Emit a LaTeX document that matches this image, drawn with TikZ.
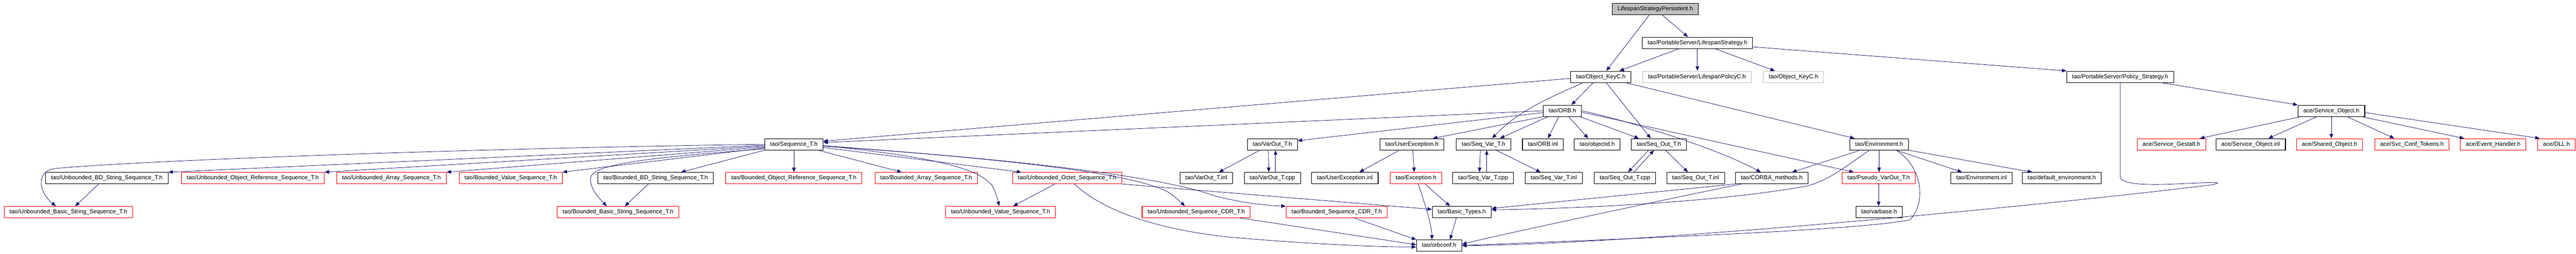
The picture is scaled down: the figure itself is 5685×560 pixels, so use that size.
\documentclass[tikz,border=0pt]{standalone}
\usepackage{fontspec}
\setmainfont{Liberation Sans}
\usetikzlibrary{arrows.meta}

\definecolor{redline}{rgb}{1,0,0}
\definecolor{grayline}{rgb}{0.75,0.75,0.75}
\definecolor{edgeblue}{rgb}{0.1,0.1,0.44}

\tikzset{
  inc/.style={draw=black, line width=1.2pt, fill=white, inner xsep=12pt, inner ysep=0pt,
    minimum height=25pt, text height=9.5pt, text depth=2.7pt, font=\fontsize{13}{15}\selectfont},
  incred/.style={inc, draw=redline},
  incgray/.style={inc, draw=grayline},
  incroot/.style={inc, fill=grayline},
  dep/.style={draw=edgeblue, line width=0.9pt, -{Triangle[length=10pt,width=8pt]}}
}

\begin{document}
\begin{tikzpicture}[x=1pt, y=-1pt] %1
            \useasboundingbox (0,0) rectangle (5685,560);

            \node[incroot] (persist) at (3653,19.5) {LifespanStrategyPersistent.h};
            \node[inc] (lspan) at (3746,94.5) {tao/PortableServer/LifespanStrategy.h};
            \node[inc] (okeyc) at (3533,169.5) {tao/Object\_KeyC.h};
            \node[incgray] (lpolicy) at (3745,169.5) {tao/PortableServer/LifespanPolicyC.h};
            \node[incgray] (okeyc2) at (3958,169.5) {tao/Object\_KeyC.h};
            \node[inc] (pstrat) at (4679,169.5) {tao/PortableServer/Policy\_Strategy.h};
            \node[inc] (orb) at (3448,244.5) {tao/ORB.h};
            \node[inc] (svcobj) at (5145,244.5) {ace/Service\_Object.h};

            \node[inc] (seqt) at (1752,318.5) {tao/Sequence\_T.h};
            \node[inc] (varout) at (2808,318.5) {tao/VarOut\_T.h};
            \node[inc] (userexc) at (3116,318.5) {tao/UserException.h};
            \node[inc] (seqvar) at (3274,318.5) {tao/Seq\_Var\_T.h};
            \node[inc] (orbinl) at (3405,318.5) {tao/ORB.inl};
            \node[inc] (objid) at (3525,318.5) {tao/objectid.h};
            \node[inc] (seqout) at (3661,318.5) {tao/Seq\_Out\_T.h};
            \node[inc] (env) at (4147,318.5) {tao/Environment.h};
            \node[incred] (gestalt) at (4792,318.5) {ace/Service\_Gestalt.h};
            \node[inc] (soinl) at (4967,318.5) {ace/Service\_Object.inl};
            \node[incred] (shared) at (5141,318.5) {ace/Shared\_Object.h};
            \node[incred] (svcconf) at (5323,318.5) {ace/Svc\_Conf\_Tokens.h};
            \node[incred] (evh) at (5502,318.5) {ace/Event\_Handler.h};
            \node[incred] (dll) at (5642,318.5) {ace/DLL.h};

            \node[inc] (ubd) at (236,393) {tao/Unbounded\_BD\_String\_Sequence\_T.h};
            \node[incred] (uor) at (558,393) {tao/Unbounded\_Object\_Reference\_Sequence\_T.h};
            \node[incred] (uarr) at (864,393) {tao/Unbounded\_Array\_Sequence\_T.h};
            \node[incred] (bval) at (1127,393) {tao/Bounded\_Value\_Sequence\_T.h};
            \node[inc] (bbd) at (1447,393) {tao/Bounded\_BD\_String\_Sequence\_T.h};
            \node[incred] (bor) at (1752,393) {tao/Bounded\_Object\_Reference\_Sequence\_T.h};
            \node[incred] (barr) at (2044,393) {tao/Bounded\_Array\_Sequence\_T.h};
            \node[incred] (uoct) at (2355,393) {tao/Unbounded\_Octet\_Sequence\_T.h};
            \node[inc] (varinl) at (2662,393) {tao/VarOut\_T.inl};
            \node[inc] (varcpp) at (2808,393) {tao/VarOut\_T.cpp};
            \node[inc] (ueinl) at (2968,393) {tao/UserException.inl};
            \node[incred] (exc) at (3125,393) {tao/Exception.h};
            \node[inc] (svcpp) at (3273,393) {tao/Seq\_Var\_T.cpp};
            \node[inc] (svinl) at (3429,393) {tao/Seq\_Var\_T.inl};
            \node[inc] (socpp) at (3586,393) {tao/Seq\_Out\_T.cpp};
            \node[inc] (soinl2) at (3742,393) {tao/Seq\_Out\_T.inl};
            \node[inc] (corba) at (3910,393) {tao/CORBA\_methods.h};
            \node[incred] (pseudo) at (4146,393) {tao/Pseudo\_VarOut\_T.h};
            \node[inc] (envinl) at (4373,393) {tao/Environment.inl};
            \node[inc] (defenv) at (4550,393) {tao/default\_environment.h};

            \node[incred] (ubs) at (151,468) {tao/Unbounded\_Basic\_String\_Sequence\_T.h};
            \node[incred] (bbs) at (1364,468) {tao/Bounded\_Basic\_String\_Sequence\_T.h};
            \node[incred] (uval) at (2208,468) {tao/Unbounded\_Value\_Sequence\_T.h};
            \node[incred] (useqcdr) at (2640,468) {tao/Unbounded\_Sequence\_CDR\_T.h};
            \node[incred] (bseqcdr) at (2950,468) {tao/Bounded\_Sequence\_CDR\_T.h};
            \node[inc] (basic) at (3226,468) {tao/Basic\_Types.h};
            \node[inc] (varbase) at (4147,468) {tao/varbase.h};

            \node[inc] (orbconf) at (3176,542) {tao/orbconf.h};

            \draw[dep] ([xshift=15pt]persist.south) -- ([xshift=-21pt]lspan.north);
            \draw[dep] ([xshift=-13pt]persist.south) -- ([xshift=12pt]okeyc.north);
            \draw[dep] ([xshift=-41pt]lspan.south) -- ([xshift=41pt]okeyc.north);
            \draw[dep] (lspan.south) -- (lspan.south |- lpolicy.north);
            \draw[dep] ([xshift=39pt]lspan.south) -- ([xshift=-41pt]okeyc2.north);
            \draw[dep] ([yshift=-9pt]lspan.east) -- (pstrat.north west);

            \draw[dep] ([yshift=-3.5pt]okeyc.west) -- ([yshift=7pt]seqt.east);
            \draw[dep] ([xshift=-17pt]okeyc.south) -- ([xshift=20pt]orb.north);
            \draw[dep] ([xshift=-39pt]okeyc.south) .. controls (3420,215) and (3350,245) .. ([xshift=19pt]seqvar.north);
            \draw[dep] ([xshift=12pt]okeyc.south) -- ([xshift=-18pt]seqout.north);
            \draw[dep] ([xshift=55pt]okeyc.south) -- ([xshift=-54pt]env.north);

            \draw[dep] ([xshift=91pt]pstrat.south) -- (svcobj.north west);
            \draw[dep] (pstrat.south) -- (4679,390) .. controls (4680,410) and (4760,408) .. (4800,406)
                .. controls (4870,403) and (4920,400) .. (4880,408) .. controls (4500,455) and (3600,540) .. (orbconf.east);

            \draw[dep] ([xshift=-68pt]svcobj.south) -- ([xshift=63pt]gestalt.north);
            \draw[dep] ([xshift=-32pt]svcobj.south) -- ([xshift=39pt]soinl.north);
            \draw[dep] (svcobj.south) -- (svcobj.south |- shared.north);
            \draw[dep] ([xshift=35pt]svcobj.south) -- ([xshift=-39pt]svcconf.north);
            \draw[dep] ([xshift=67pt]svcobj.south) -- ([xshift=-64pt]evh.north);
            \draw[dep] ([yshift=-4pt]svcobj.east) -- ([xshift=-37pt]dll.north);

            \draw[dep] (orb.west) -- ([yshift=4pt]seqt.east);
            \draw[dep] ([yshift=-4pt]orb.west) -- ([yshift=8pt]varout.east);
            \draw[dep] (orb.south west) -- ([xshift=46pt]userexc.north);
            \draw[dep] ([xshift=-32pt]orb.south) -- ([xshift=36pt]seqvar.north);
            \draw[dep] ([xshift=-8pt]orb.south) -- ([xshift=11pt]orbinl.north);
            \draw[dep] ([xshift=14pt]orb.south) -- ([xshift=-20pt]objid.north);
            \draw[dep] ([xshift=39pt]orb.south) -- ([xshift=-44pt]seqout.north);
            \draw[dep] (orb.east) .. controls (3600,268) and (3790,328) .. ([xshift=-24pt]corba.north);
            \draw[dep] ([yshift=-3pt]orb.east) -- ([xshift=-55pt]pseudo.north);

            \draw[dep] (seqt.west) .. controls (1000,328) and (300,355) .. (120,372) .. controls (82,378) and (82,420) .. ([xshift=-28pt]ubs.north);
            \draw[dep] ([yshift=-2pt]seqt.west) -- (ubd.north east);
            \draw[dep] ([yshift=-4pt]seqt.west) -- (uor.north east);
            \draw[dep] ([yshift=-6pt]seqt.west) -- (uarr.north east);
            \draw[dep] ([yshift=-8pt]seqt.west) -- (bval.north east);
            \draw[dep] ([yshift=-10pt]seqt.west) .. controls (1400,350) and (1303,365) .. (1303,395) .. controls (1303,420) and (1325,440) .. ([xshift=-25pt]bbs.north);
            \draw[dep] (seqt.south west) -- ([xshift=56pt]bbd.north);
            \draw[dep] (seqt.south) -- (bor.north);
            \draw[dep] ([xshift=54pt]seqt.south) -- ([xshift=-54pt]barr.north);
            \draw[dep] ([yshift=-7pt]seqt.east) -- ([xshift=-101pt]uoct.north);
            \draw[dep] ([yshift=-3pt]seqt.east) .. controls (2050,345) and (2160,370) .. (2190,410) .. controls (2200,430) and (2203,445) .. ([xshift=-3pt]uval.north);
            \draw[dep] ([yshift=-3pt]seqt.east) .. controls (2200,350) and (2500,380) .. (2580,425) .. controls (2600,440) and (2610,450) .. ([xshift=-25pt]useqcdr.north);
            \draw[dep] ([yshift=-4pt]seqt.east) .. controls (2300,355) and (2580,395) .. (2680,432) .. controls (2740,448) and (2800,454) .. (bseqcdr.north west);

            \draw[dep] ([xshift=-18pt]ubd.south) -- ([xshift=15pt]ubs.north);
            \draw[dep] ([xshift=-16pt]bbd.south) -- ([xshift=15pt]bbs.north);
            \draw[dep] ([xshift=-27pt]uoct.south) -- ([xshift=28pt]uval.north);
            \draw[dep] (uoct.south east) -- ([yshift=6pt]basic.west);
            \draw[dep] ([xshift=16pt]uoct.south) .. controls (2440,470) and (2560,505) .. (2700,522) .. controls (2900,540) and (3050,545) .. ([yshift=-3pt]orbconf.west);

            \draw[dep] ([xshift=-28pt]varout.south) -- ([xshift=28pt]varinl.north);
            \draw[dep] ([xshift=-9pt]varout.south) -- ([xshift=-8pt]varcpp.north);
            \draw[dep] ([xshift=7pt]varcpp.north) -- ([xshift=7pt]varout.south);
            \draw[dep] ([xshift=-28pt]userexc.south) -- ([xshift=32pt]ueinl.north);
            \draw[dep] ([xshift=2pt]userexc.south) -- ([xshift=-4pt]exc.north);
            \draw[dep] ([xshift=-7pt]seqvar.south) -- ([xshift=-8pt]svcpp.north);
            \draw[dep] ([xshift=8pt]svcpp.north) -- ([xshift=7pt]seqvar.south);
            \draw[dep] ([xshift=28pt]seqvar.south) -- ([xshift=-29pt]svinl.north);
            \draw[dep] ([xshift=-23pt]seqout.south) -- ([xshift=7pt]socpp.north);
            \draw[dep] ([xshift=20pt]socpp.north) -- ([xshift=-11pt]seqout.south);
            \draw[dep] ([xshift=15pt]seqout.south) -- ([xshift=-17pt]soinl2.north);

            \draw[dep] ([xshift=20pt]exc.south) -- ([xshift=-26pt]basic.north);
            \draw[dep] ([xshift=5pt]exc.south) .. controls (3145,450) and (3160,500) .. ([xshift=-16pt]orbconf.north);
            \draw[dep] ([xshift=-12pt]basic.south) -- ([xshift=24pt]orbconf.north);
            \draw[dep] ([xshift=97pt]useqcdr.south) -- ([yshift=2pt]orbconf.west);
            \draw[dep] ([xshift=39pt]bseqcdr.south) -- (orbconf.north west);

            \draw[dep] ([xshift=-42pt]env.south) -- ([xshift=45pt]corba.north);
            \draw[dep] (env.south) -- (env.south |- pseudo.north);
            \draw[dep] ([xshift=38pt]env.south) -- ([xshift=-43pt]envinl.north);
            \draw[dep] (env.south east) -- ([xshift=-65pt]defenv.north);
            \draw[dep] ([xshift=-22pt]env.south) .. controls (4070,370) and (4040,395) .. (3990,410) .. controls (3800,445) and (3500,460) .. ([yshift=5pt]basic.east);
            \draw[dep] ([xshift=38pt]env.south) .. controls (4245,370) and (4250,450) .. (4215,485) .. controls (4100,510) and (3500,530) .. (orbconf.east);
            \draw[dep] (corba.south west) -- ([yshift=8pt]basic.east);
            \draw[dep] ([xshift=-67pt]corba.south) .. controls (3700,435) and (3300,520) .. ([yshift=3pt]orbconf.east);
            \draw[dep] (pseudo.south) -- (pseudo.south |- varbase.north);
        \end{tikzpicture}
\end{document}
